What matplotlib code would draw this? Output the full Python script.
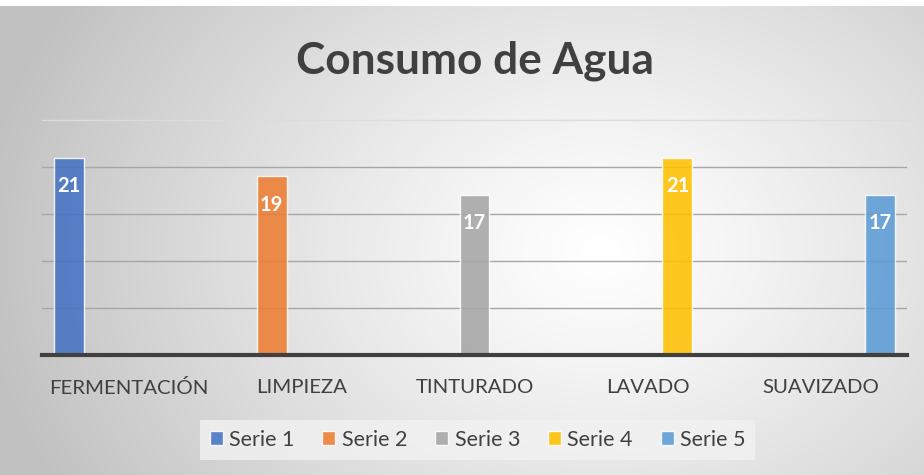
import numpy as np
import matplotlib
matplotlib.use('Agg')
import matplotlib.pyplot as plt
from matplotlib.patches import Patch

# datos
categorias = ['FERMENTACIÓN', 'LIMPIEZA', 'TINTURADO', 'LAVADO', 'SUAVIZADO']
series = ['Serie 1', 'Serie 2', 'Serie 3', 'Serie 4', 'Serie 5']
valores = [
    [21, 0, 0, 0, 0],
    [0, 19, 0, 0, 0],
    [0, 0, 17, 0, 0],
    [0, 0, 0, 21, 0],
    [0, 0, 0, 0, 17],
]
colores = ['#4472C4', '#ED7D31', '#A5A5A5', '#FFC000', '#5B9BD5']

plt.rcParams['font.family'] = ['Lato', 'DejaVu Sans']

fig = plt.figure(figsize=(9.24, 4.75), dpi=100)

# fondo con degradado radial
bg = fig.add_axes([0, 0, 1, 1], zorder=0)
W, H = 924, 475
yy, xx = np.mgrid[0:H, 0:W]
r = np.sqrt((xx - 600) ** 2 + ((yy - 250) * 1.3) ** 2) / 620
r = np.clip(r, 0, 1) ** 1.2
c0 = np.array([1.0, 1.0, 1.0])
c1 = np.array([0.76, 0.76, 0.76])
img = c0[None, None, :] * (1 - r[..., None]) + c1[None, None, :] * r[..., None]
img[:6, :, :] = 1.0
bg.imshow(img, extent=[0, W, H, 0], aspect='auto')
bg.set_xlim(0, W)
bg.set_ylim(H, 0)
bg.axis('off')

ax = fig.add_axes([42 / 924, 1 - 355 / 475, 865 / 924, 235 / 475], zorder=1)
ax.patch.set_alpha(0)

x = np.arange(len(categorias))
w = 0.173
for i, s in enumerate(series):
    pos = x + (i - 2) * w
    vals = valores[i]
    bars = ax.bar(pos, vals, width=w, color=colores[i], alpha=0.87,
                  edgecolor='white', linewidth=1, label=s, zorder=3)
    for b, v in zip(bars, vals):
        if v > 0:
            ax.text(b.get_x() + b.get_width() / 2, v - 3.0, str(v), ha='center', va='center',
                    color='white', fontsize=14.5, fontweight='bold', zorder=4)

ax.set_xlim(-0.5, 4.5)
ax.set_ylim(0, 25)
for yv in [5, 10, 15, 20]:
    ax.axhline(yv, color='#a6a6a6', lw=1, zorder=1)
ax.axhline(25, color='#dcdcdc', lw=1, zorder=1, clip_on=False)
ax.axhline(0, color='#404040', lw=3, zorder=5, clip_on=False)

for s in ax.spines.values():
    s.set_visible(False)
ax.set_yticks([])
ax.set_xticks(x)
ax.set_xticklabels(categorias, fontsize=14.7, color='#404040')
ax.tick_params(axis='x', length=0, pad=17)

fig.text(0.514, 0.873, 'Consumo de Agua', ha='center', va='center', fontsize=31.8,
         fontweight='bold', color='#404040')

handles = [Patch(facecolor=c, edgecolor='white', alpha=0.87) for c in colores]
leg = fig.legend(handles, series, loc='center', bbox_to_anchor=(0.517, 0.074), ncol=5,
                 fontsize=15.5, frameon=True, facecolor='#f2f2f2', edgecolor='none',
                 handlelength=0.6, handleheight=0.6, handletextpad=0.3, columnspacing=1.3,
                 borderpad=0.45, fancybox=False)
leg.get_frame().set_alpha(0.8)
for t in leg.get_texts():
    t.set_color('#404040')

fig.savefig('out.png', dpi=100)
